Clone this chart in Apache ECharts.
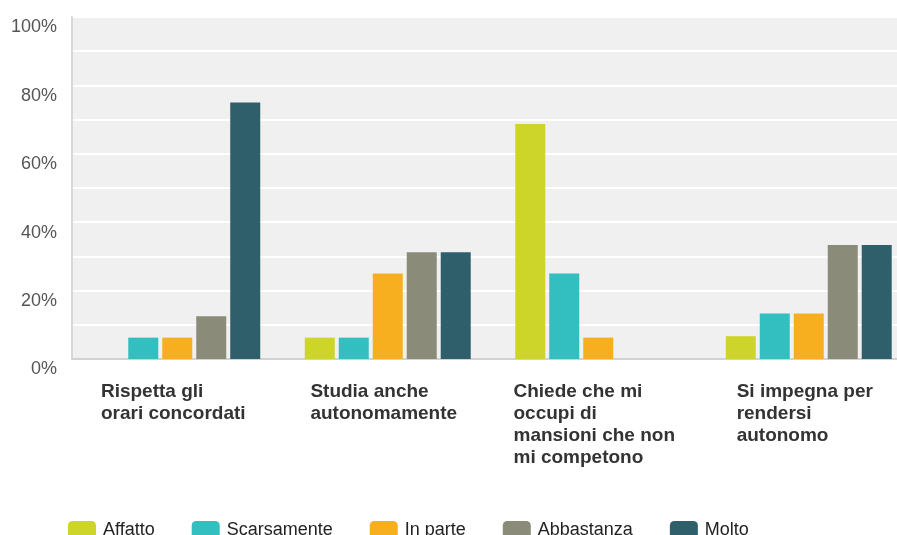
<!DOCTYPE html>
<html>
<head>
<meta charset="utf-8">
<script src="https://cdn.jsdelivr.net/npm/echarts@6/dist/echarts.min.js"></script>
<style>
  html, body { margin: 0; padding: 0; background: #fff; }
  #chart { width: 897px; height: 535px; }
</style>
</head>
<body>
<div id="chart"></div>
<script>
  // domande e risposte (percentuali)
  var categories = [
    'Rispetta gli\norari concordati',
    'Studia anche\nautonomamente',
    'Chiede che mi\noccupi di\nmansioni che non\nmi competono',
    'Si impegna per\nrendersi\nautonomo'
  ]
  var seriesNames = ['Affatto', 'Scarsamente', 'In parte', 'Abbastanza', 'Molto']
  var colors = ['#cdd52a', '#33bec0', '#f7af1f', '#8a8b79', '#2e5f6b']
  var affatto = [0, 6.25, 68.75, 6.67]
  var scarsamente = [6.25, 6.25, 25, 13.33]
  var inParte = [6.25, 25, 6.25, 13.33]
  var abbastanza = [12.5, 31.25, 0, 33.33]
  var molto = [75, 31.25, 0, 33.33]
  var values = [affatto, scarsamente, inParte, abbastanza, molto]

  var chart = echarts.init(document.getElementById('chart'))
  var option = {
    animation: false,
    textStyle: { fontFamily: 'Liberation Sans, Arial, sans-serif' },
    // l'area del grafico continua oltre il bordo destro
    grid: {
      left: 72, width: 842, top: 17, bottom: 176,
      outerBoundsMode: 'none',
      containLabel: false,
      show: true, backgroundColor: '#f0f0f0', borderWidth: 0
    },
    legend: {
      data: seriesNames,
      left: 63,
      top: 516,
      icon: 'roundRect',
      itemWidth: 28,
      itemHeight: 18,
      itemGap: 37,
      textStyle: { fontSize: 18, color: '#222', padding: [0, 0, 0, 2] }
    },
    xAxis: {
      type: 'category',
      data: categories,
      axisLine: { lineStyle: { color: '#d2d2d2', width: 2 } },
      axisTick: { show: false },
      axisLabel: {
        interval: 0,
        margin: 22,
        padding: [0, 8, 0, 0],
        formatter: function (v) { return '{t|' + v + '}' },
        rich: {
          t: {
            align: 'left',
            fontSize: 19,
            fontWeight: 'bold',
            lineHeight: 22,
            color: '#333',
            fontFamily: 'Liberation Sans, Arial, sans-serif'
          }
        }
      }
    },
    yAxis: {
      type: 'value',
      min: 0,
      max: 100,
      interval: 10,
      axisLine: { show: true, lineStyle: { color: '#d8d8d8', width: 2 } },
      axisTick: { show: false },
      splitLine: { lineStyle: { color: '#ffffff', width: 2 } },
      axisLabel: {
        margin: 15,
        fontSize: 18,
        color: '#555',
        verticalAlign: 'top',
        lineHeight: 15,
        padding: [3, 0, 0, 0],
        formatter: function (v) { return v % 20 === 0 ? v + '%' : '' }
      }
    },
    series: seriesNames.map(function (name, i) {
      return {
        name: name,
        type: 'bar',
        data: values[i],
        barWidth: 30,
        barGap: '13.3%',
        itemStyle: { color: colors[i] }
      }
    })
  }
  chart.setOption(option)
</script>
</body>
</html>
